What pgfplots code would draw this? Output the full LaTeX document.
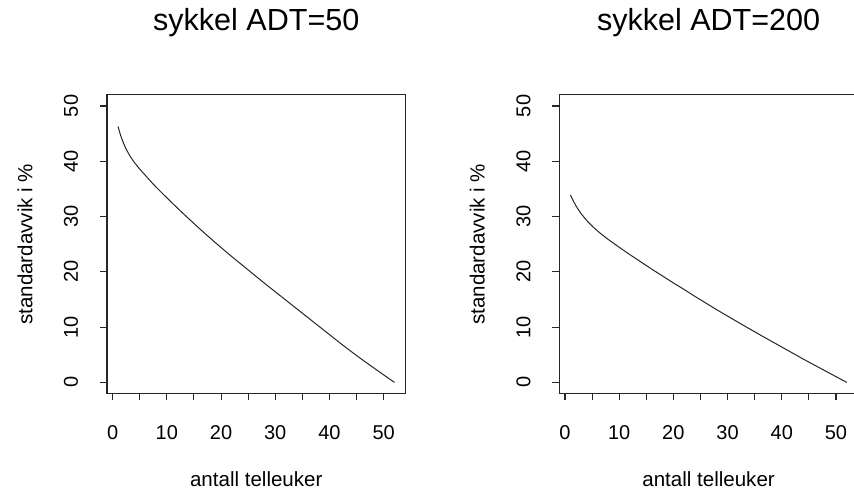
\documentclass[border=0pt]{standalone}
\usepackage{fontspec}
\setmainfont{Liberation Sans}
\usepackage{pgfplots}
\pgfplotsset{compat=1.18}
\pgfplotsset{
  rstyle/.style={
    scale only axis,
    width=223.9pt, height=223.9pt,
    xmin=-1.04, xmax=54.04, ymin=-2, ymax=52,
    axis line style={line width=0.8pt, black!85},
    tick style={line width=0.8pt, black!85},
    tick align=outside,
    xtick={0,10,...,50}, minor xtick={5,15,...,45},
    ytick={0,10,...,50},
    major tick length=5.25pt, minor tick length=5.25pt,
    xtick pos=bottom, ytick pos=left,
    /pgf/number format/assume math mode=true,
    tick label style={font=\fontsize{15}{18}\selectfont, inner sep=0pt},
    yticklabel style={rotate=90, anchor=base},
    xticklabel style={anchor=base},
    yticklabel shift=16.5pt,
    xticklabel shift=29.1pt,
    title style={at={(axis description cs:0.5,1.1876)}, anchor=base, font=\fontsize{22.9}{27}\selectfont, inner sep=0pt},
    xlabel style={at={(axis description cs:0.5,-0.310)}, anchor=base, font=\fontsize{15.4}{18}\selectfont, inner sep=0pt},
    ylabel style={at={(axis description cs:-0.250,0.5)}, anchor=base, font=\fontsize{15.4}{18}\selectfont, inner sep=0pt},
    xlabel={antall telleuker},
    ylabel={standardavvik i \%},
  }
}
\pgfplotstableread{
x y
1 46.3
1.5 44.6
2 43.3
2.5 42.2
3 41.3
3.5 40.5
4 39.8
5 38.6
6 37.5
7 36.4
8 35.35
10 33.4
12 31.5
14 29.65
16 27.85
18 26.1
20 24.4
22 22.75
24 21.15
26 19.55
28 17.95
30 16.4
32 14.85
34 13.3
36 11.75
38 10.2
40 8.65
42 7.1
44 5.6
46 4.15
48 2.75
50 1.37
52 0
}\dataA
\pgfplotstableread{
x y
1 33.9
1.5 32.9
2 32.0
2.5 31.2
3 30.5
3.5 29.9
4 29.3
5 28.3
6 27.4
7 26.6
8 25.85
10 24.45
12 23.1
14 21.8
16 20.5
18 19.25
20 18.0
22 16.8
24 15.55
26 14.35
28 13.15
30 12.0
32 10.85
34 9.72
36 8.6
38 7.5
40 6.4
42 5.3
44 4.2
46 3.15
48 2.1
50 1.05
52 0
}\dataB
\begin{document}
\begin{tikzpicture}
\begin{axis}[rstyle, at={(80.25pt,72.4pt)}, anchor=south west, title={sykkel ADT=50}]
\addplot[smooth, line width=0.75pt, black!85, mark=none] table[x=x,y=y] {\dataA};
\end{axis}
\begin{axis}[rstyle, at={(419.5pt,72.4pt)}, anchor=south west, title={sykkel ADT=200}]
\addplot[smooth, line width=0.75pt, black!85, mark=none] table[x=x,y=y] {\dataB};
\end{axis}
\pgfresetboundingbox
\path[use as bounding box] (0,0) rectangle (640.5pt,367.5pt);
\end{tikzpicture}
\end{document}
